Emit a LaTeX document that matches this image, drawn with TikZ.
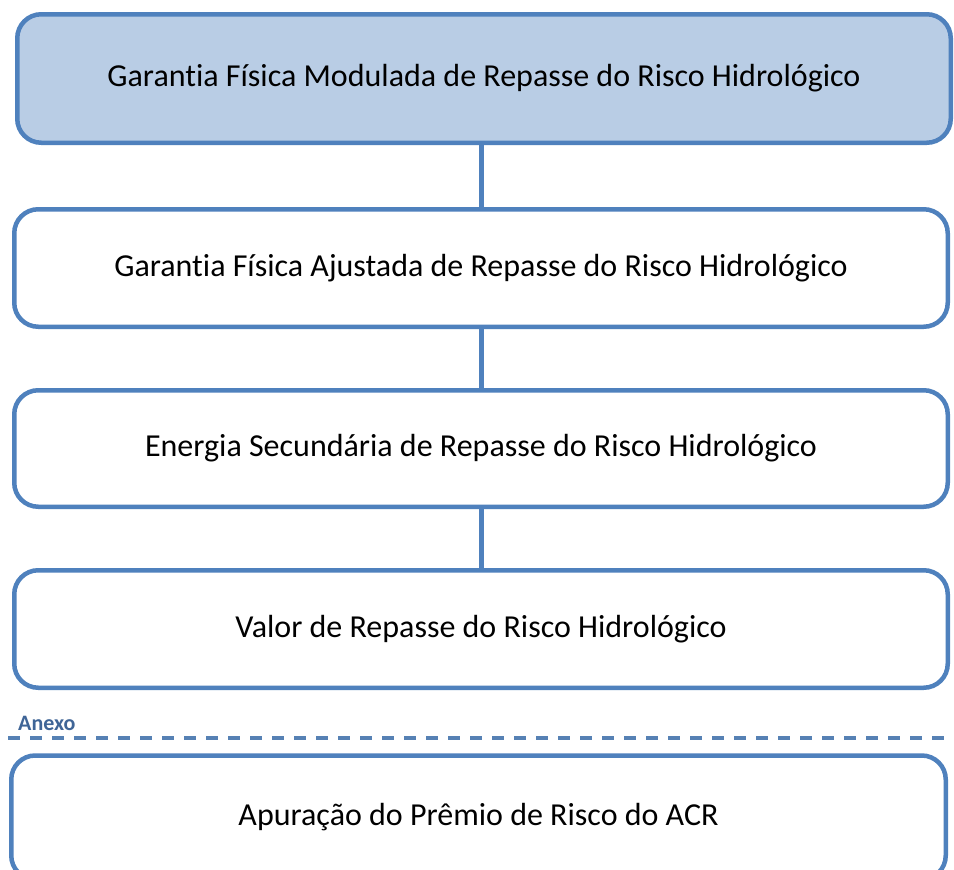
\documentclass[tikz,border=0pt]{standalone}
\usepackage{fontspec}
\setmainfont{Carlito}[Ligatures=NoCommon]
\usetikzlibrary{positioning,calc}
\definecolor{Edge}{HTML}{4F81BD}
\definecolor{Fill}{HTML}{B9CDE5}
\definecolor{Note}{HTML}{3F6597}
\tikzset{
 every node/.style={font=\fontsize{32}{38}\selectfont,text=black},
 stage/.style={draw=Edge,line width=4.5pt,rounded corners=24pt,fill=white,minimum width=933.5pt,inner sep=0pt},
 link/.style={draw=Edge,line width=5pt},
 sep/.style={draw=Edge!85!gray,line width=4pt,dash pattern=on 12pt off 10pt},
 tag/.style={font=\bfseries\fontsize{22}{26}\selectfont,text=Note,inner sep=0pt},
 }
\begin{document}
\begin{tikzpicture}[x=1pt,y=-1pt]
 \useasboundingbox[fill=white](0,0)rectangle(954,870);
 \node[stage,fill=Fill,minimum height=128.5pt](b1)at(484,78.5){Garantia Física Modulada de Repasse do Risco Hidrológico};
 \node[stage,minimum height=117.5pt](b2)at(481,268){Garantia Física Ajustada de Repasse do Risco Hidrológico};
 \node[stage,minimum height=116.5pt](b3)at(481,448.5){Energia Secundária de Repasse do Risco Hidrológico};
 \node[stage,minimum height=117.5pt](b4)at(481,629){Valor de Repasse do Risco Hidrológico};
 \node[stage,minimum width=934.5pt,minimum height=124pt](b5)at(478.5,817.5){Apuração do Prêmio de Risco do ACR};
 \draw[link](b1.south -| b2.north)--(b2.north);
 \draw[link](b2)--(b3);\draw[link](b3)--(b4);
 \coordinate(s1)at(8,738);\coordinate(s2)at(954,738);
 \draw[sep](s1)--(s2);
 \node[tag,anchor=base west](anexo)at(18,730){Anexo};
\end{tikzpicture}
\end{document}
